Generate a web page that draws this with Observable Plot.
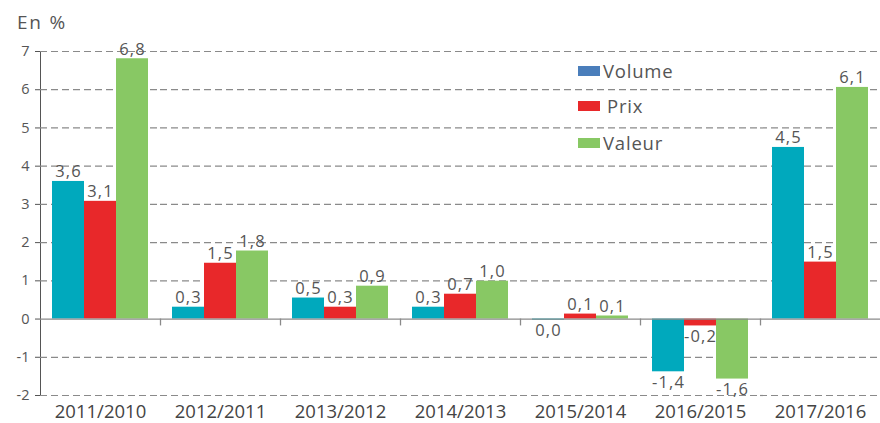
<!DOCTYPE html>
<html>
<head>
<meta charset="utf-8">
<script src="https://cdn.jsdelivr.net/npm/d3@7"></script>
<script src="https://cdn.jsdelivr.net/npm/@observablehq/plot@0.6"></script>
<style>
  html, body { margin: 0; padding: 0; background: #fff; }
  #wrap { position: relative; width: 880px; height: 423px; font-family: "Open Sans", sans-serif; color: #555; }
  #title { position: absolute; left: 17px; top: 9px; font-size: 19px; letter-spacing: 1.8px; color: #555; }
  .leg { position: absolute; font-size: 18.5px; color: #555; display: flex; align-items: center; letter-spacing: 0.8px; }
  .sw { display: inline-block; width: 22px; height: 10px; margin-right: 3px; }
  svg g[aria-label="fx-axis tick label"] text { font-size: 18.5px; fill: #444; }
  svg g[aria-label="y-axis tick label"] text { font-size: 14.5px; fill: #555; }
  svg g[aria-label="text"] text { letter-spacing: 1.2px; }
</style>
</head>
<body>
<div id="wrap">
  <div id="title">En %</div>
  <div id="chart"></div>
  <div id="legend"></div>
</div>
<script>
const categories = ["2011/2010","2012/2011","2013/2012","2014/2013","2015/2014","2016/2015","2017/2016"];
const series = ["Volume","Prix","Valeur"];
const volume = [3.6, 0.31, 0.55, 0.31, -0.03, -1.38, 4.49];
const prix   = [3.08, 1.46, 0.31, 0.65, 0.13, -0.18, 1.49];
const valeur = [6.81, 1.78, 0.86, 0.99, 0.08, -1.57, 6.06];
const volumeLabels = ["3,6","0,3","0,5","0,3","0,0","-1,4","4,5"];
const prixLabels   = ["3,1","1,5","0,3","0,7","0,1","-0,2","1,5"];
const valeurLabels = ["6,8","1,8","0,9","1,0","0,1","-1,6","6,1"];
const yTicks = [-2,-1,0,1,2,3,4,5,6,7];
const barColors = ["#00a9bd","#e8282a","#88c864"];
const legendColors = ["#4a7ebb","#e8282a","#88c864"];

const data = categories.flatMap((c, i) => [
  {cat: c, series: "Volume", value: volume[i], label: volumeLabels[i]},
  {cat: c, series: "Prix", value: prix[i], label: prixLabels[i]},
  {cat: c, series: "Valeur", value: valeur[i], label: valeurLabels[i]}
]);

const chart = Plot.plot({
  width: 880, height: 423,
  marginLeft: 40, marginRight: 0, marginTop: 51, marginBottom: 28,
  style: {fontFamily: "Open Sans, sans-serif", fontSize: "14px", color: "#555", background: "transparent"},
  fx: {domain: categories, padding: 0, label: null, tickSize: 0, tickPadding: 9},
  x: {domain: series, paddingInner: 0, paddingOuter: 0.37, axis: null},
  y: {domain: [-2, 7], ticks: yTicks, tickSize: 5, tickPadding: 6, label: null, line: true, tickFormat: d => String(d)},
  color: {domain: series, range: barColors},
  marks: [
    Plot.ruleY(yTicks.filter(t => t !== 0), {stroke: "#8a8a8a", strokeWidth: 1.2, strokeDasharray: "7,4"}),
    Plot.barY(data, {fx: "cat", x: "series", y: "value", fill: "series"}),
    Plot.ruleY([0], {stroke: "#8a8a8a", strokeWidth: 1.3}),
    Plot.ruleX(categories.slice(1), {fx: d => d, x: () => "Volume", y1: 0, y2: -0.18, dx: -28, stroke: "#8a8a8a", strokeWidth: 1.3}),
    Plot.text(data.filter(d => d.value >= 0), {fx: "cat", x: "series", y: "value", text: "label", lineAnchor: "bottom", dy: -4, fontSize: 16.5, fill: "#555"}),
    Plot.text(data.filter(d => d.value < 0), {fx: "cat", x: "series", y: "value", text: "label", lineAnchor: "top", dy: 4, fontSize: 16.5, fill: "#555"})
  ]
});
document.getElementById("chart").appendChild(chart);

const legendTops = [58, 93, 130];
const legendGaps = [3, 7, 3];
const leg = document.getElementById("legend");
series.forEach((s, i) => {
  const el = document.createElement("div");
  el.className = "leg";
  el.style.left = "578px";
  el.style.top = legendTops[i] + "px";
  const sw = document.createElement("span");
  sw.className = "sw";
  sw.style.background = legendColors[i];
  sw.style.marginRight = legendGaps[i] + "px";
  el.appendChild(sw);
  el.appendChild(document.createTextNode(s));
  leg.appendChild(el);
});
</script>
</body>
</html>
